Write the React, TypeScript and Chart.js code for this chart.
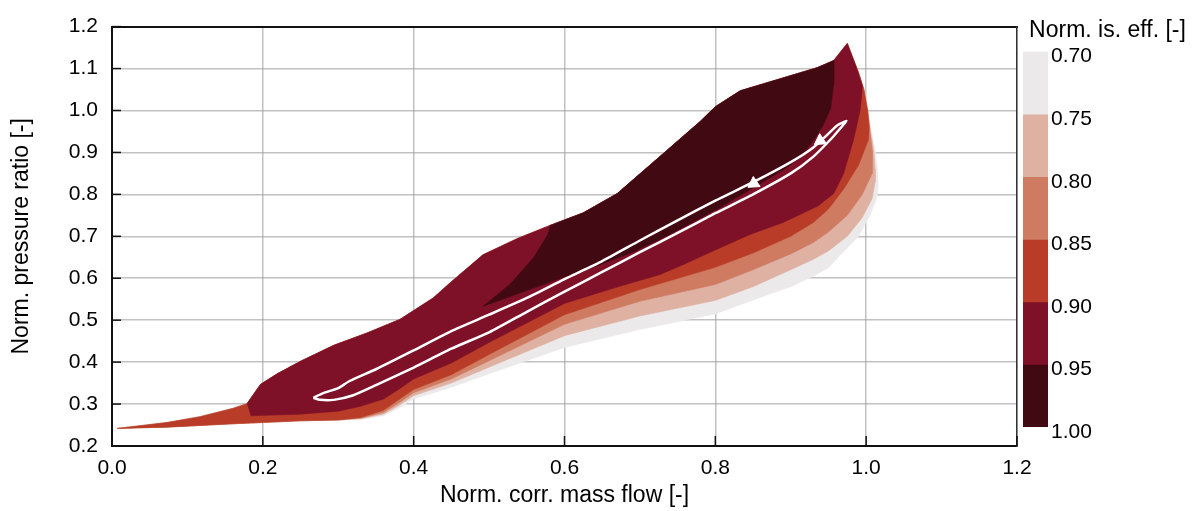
import React, { useEffect, useRef } from 'react';
import { Chart, registerables } from 'chart.js';

Chart.register(...registerables);
Chart.defaults.font.family = "'Liberation Sans', Arial, sans-serif";

type P = [number, number];

// axis ticks
const xTickValues = [0, 0.2, 0.4, 0.6, 0.8, 1.0, 1.2];
const yTickValues = [0.2, 0.3, 0.4, 0.5, 0.6, 0.7, 0.8, 0.9, 1.0, 1.1, 1.2];

// efficiency levels (colour bar)
const levelBounds = [0.7, 0.75, 0.8, 0.85, 0.9, 0.95, 1.0];
const levelColors = ['#ebe9e9', '#deb1a3', '#cf7b62', '#b83c27', '#7e1128', '#410a12'];

// shared upper-left boundary of the map (mass flow, pressure ratio)
const topBoundary: P[] = [
  [0.007, 0.242], [0.073, 0.256], [0.117, 0.27], [0.161, 0.29], [0.179, 0.301],
  [0.197, 0.347], [0.219, 0.372], [0.25, 0.402], [0.294, 0.44], [0.339, 0.47],
  [0.382, 0.502], [0.426, 0.553], [0.449, 0.59], [0.492, 0.656], [0.538, 0.695],
  [0.581, 0.726], [0.625, 0.756], [0.67, 0.802], [0.736, 0.905], [0.78, 0.974],
  [0.8, 1.009], [0.833, 1.047], [0.935, 1.102], [0.957, 1.119], [0.975, 1.16],
];

// common right edge near the peak for outer levels
const rightTop: P[] = [[0.975, 1.16], [0.99, 1.09], [0.997, 1.05], [1.002, 1.0]];

const lowerLeft: P[] = [[0.25, 0.26], [0.161, 0.253], [0.073, 0.245], [0.007, 0.242]];

// lower / right edge of each level region (from the peak back to the left)
const edge070: P[] = [
  [1.007, 0.95], [1.012, 0.905], [1.015, 0.86], [1.016, 0.82], [1.014, 0.79], [1.005, 0.75],
  [0.99, 0.7], [0.966, 0.656], [0.95, 0.625], [0.93, 0.605], [0.9, 0.58], [0.85, 0.548],
  [0.8, 0.515], [0.7, 0.478], [0.6, 0.435], [0.5, 0.372], [0.45, 0.34], [0.4, 0.312],
  [0.38, 0.29], [0.36, 0.272], [0.33, 0.263], [0.3, 0.261],
];
const edge075: P[] = [
  [1.006, 0.95], [1.01, 0.905], [1.012, 0.86], [1.012, 0.83], [1.008, 0.79], [0.995, 0.745],
  [0.975, 0.7], [0.95, 0.665], [0.93, 0.645], [0.9, 0.62], [0.85, 0.58], [0.8, 0.547],
  [0.7, 0.51], [0.6, 0.463], [0.5, 0.388], [0.45, 0.35], [0.4, 0.32], [0.38, 0.296],
  [0.36, 0.276], [0.33, 0.265], [0.3, 0.262],
];
const edge080: P[] = [
  [1.005, 0.95], [1.008, 0.905], [1.008, 0.85], [0.995, 0.8], [0.975, 0.75], [0.95, 0.71],
  [0.93, 0.685], [0.9, 0.658], [0.85, 0.62], [0.8, 0.585], [0.7, 0.545], [0.6, 0.49],
  [0.5, 0.403], [0.45, 0.36], [0.4, 0.327], [0.38, 0.302], [0.36, 0.28], [0.33, 0.266], [0.3, 0.262],
];
const edge085: P[] = [
  [1.004, 0.96], [1.003, 0.93], [0.99, 0.87], [0.97, 0.812], [0.95, 0.765], [0.93, 0.733],
  [0.9, 0.7], [0.85, 0.66], [0.8, 0.626], [0.7, 0.573], [0.6, 0.513], [0.5, 0.418],
  [0.45, 0.37], [0.4, 0.335], [0.38, 0.31], [0.36, 0.285], [0.33, 0.268], [0.3, 0.262],
];
const edge090: P[] = [
  [0.988, 1.098], [0.995, 1.058], [0.992, 1.0], [0.983, 0.928], [0.97, 0.849], [0.957, 0.802],
  [0.936, 0.772], [0.89, 0.733], [0.847, 0.705], [0.803, 0.67], [0.758, 0.633], [0.727, 0.609],
  [0.67, 0.579], [0.6, 0.54], [0.5, 0.447], [0.45, 0.398], [0.4, 0.36], [0.38, 0.335],
  [0.36, 0.312], [0.33, 0.295], [0.3, 0.283], [0.25, 0.276], [0.184, 0.272],
];
const edge095: P[] = [
  [0.957, 1.063], [0.953, 1.005], [0.943, 0.965], [0.93, 0.928], [0.913, 0.888], [0.89, 0.858],
  [0.847, 0.812], [0.803, 0.765], [0.737, 0.702], [0.692, 0.663], [0.648, 0.633], [0.625, 0.619],
  [0.581, 0.591], [0.538, 0.563], [0.492, 0.533], [0.528, 0.586], [0.559, 0.649], [0.577, 0.702],
];

// operating loop (white closed curve)
const loopUpper: P[] = [
  [0.267, 0.315], [0.28, 0.326], [0.3, 0.338], [0.315, 0.355], [0.35, 0.383], [0.4, 0.428],
  [0.45, 0.474], [0.5, 0.513], [0.55, 0.553], [0.6, 0.598], [0.65, 0.641], [0.7, 0.69],
  [0.75, 0.738], [0.8, 0.785], [0.85, 0.829], [0.9, 0.877], [0.93, 0.912], [0.95, 0.945],
  [0.962, 0.965], [0.974, 0.975],
];
const loopLower: P[] = [
  [0.966, 0.958], [0.955, 0.935], [0.93, 0.89], [0.9, 0.85], [0.85, 0.8], [0.8, 0.755],
  [0.75, 0.708], [0.7, 0.662], [0.65, 0.615], [0.6, 0.568], [0.55, 0.52], [0.5, 0.471],
  [0.45, 0.432], [0.4, 0.387], [0.35, 0.345], [0.32, 0.321], [0.294, 0.31], [0.276, 0.31],
  [0.267, 0.315],
];
const arrowPoints: P[] = [[0.851, 0.826], [0.939, 0.928]];

const toXY = (pts: P[]) => pts.map(([x, y]) => ({ x, y }));

const innerTicks = {
  id: 'innerTicks',
  afterDraw(chart: any) {
    const { ctx, chartArea, scales } = chart;
    ctx.save();
    ctx.strokeStyle = '#111';
    ctx.lineWidth = 1.5;
    for (const v of yTickValues) {
      const py = scales.y.getPixelForValue(v);
      ctx.beginPath();
      ctx.moveTo(chartArea.left, py);
      ctx.lineTo(chartArea.left + 9, py);
      ctx.stroke();
    }
    for (const v of xTickValues) {
      const px = scales.x.getPixelForValue(v);
      ctx.beginPath();
      ctx.moveTo(px, chartArea.bottom);
      ctx.lineTo(px, chartArea.bottom - 10);
      ctx.stroke();
    }
    ctx.restore();
  },
};

export default function App() {
  const mainRef = useRef<HTMLCanvasElement>(null);
  const cbRef = useRef<HTMLCanvasElement>(null);

  useEffect(() => {
    const polys: P[][] = [
      [...topBoundary, ...rightTop.slice(1), ...edge070, ...lowerLeft],
      [...topBoundary, ...rightTop.slice(1), ...edge075, ...lowerLeft],
      [...topBoundary, ...rightTop.slice(1), ...edge080, ...lowerLeft],
      [...topBoundary, ...rightTop.slice(1), ...edge085, ...lowerLeft],
      [...topBoundary.slice(4), ...edge090],
      [...topBoundary.slice(15, 24), ...edge095],
    ];
    const fillSets = polys.map((p, i) => ({
      data: toXY(p),
      fill: 'shape',
      backgroundColor: levelColors[i],
      borderColor: levelColors[i],
      borderWidth: 0.5,
      pointRadius: 0,
      tension: 0,
      order: 20 - i,
    }));
    const loopSet = {
      data: toXY([...loopUpper, ...loopLower]),
      fill: false,
      borderColor: '#ffffff',
      borderWidth: 2.5,
      pointRadius: 0,
      tension: 0.2,
      order: 2,
    };
    const arrowSet = {
      data: toXY(arrowPoints),
      showLine: false,
      pointStyle: 'triangle',
      pointRadius: 7,
      pointRotation: 236,
      backgroundColor: '#ffffff',
      borderColor: '#ffffff',
      order: 1,
    };

    const gridColor = 'rgba(160,160,160,0.65)';
    const main = new Chart(mainRef.current as HTMLCanvasElement, {
      type: 'line',
      data: { datasets: [...fillSets, loopSet, arrowSet] as any },
      options: {
        responsive: false,
        animation: false,
        events: [],
        layout: { padding: { left: 0, right: 175, top: 16, bottom: 0 } },
        plugins: { legend: { display: false }, tooltip: { enabled: false } },
        scales: {
          x: {
            type: 'linear', position: 'bottom', min: 0, max: 1.2, z: 1,
            afterFit: (s: any) => { s.height = 65; },
            ticks: { stepSize: 0.2, callback: (v: any) => Number(v).toFixed(1), font: { size: 21 }, color: '#000', padding: 10, maxRotation: 0, autoSkip: false },
            grid: { color: gridColor, lineWidth: 1.5, drawTicks: false },
            border: { color: '#111', width: 2 },
            title: { display: true, text: 'Norm. corr. mass flow [-]', font: { size: 23 }, color: '#000', padding: { top: 0, bottom: 2 } },
          },
          y: {
            type: 'linear', position: 'left', min: 0.2, max: 1.2, z: 1,
            afterFit: (s: any) => { s.width = 112; },
            ticks: { stepSize: 0.1, callback: (v: any) => Number(v).toFixed(1), font: { size: 21 }, color: '#000', padding: 14, autoSkip: false },
            grid: { color: gridColor, lineWidth: 1.5, drawTicks: false },
            border: { color: '#111', width: 2 },
            title: { display: true, text: 'Norm. pressure ratio [-]', font: { size: 23 }, color: '#000', padding: { top: 8, bottom: 0 } },
          },
          x2: {
            type: 'linear', position: 'top', min: 0, max: 1.2, z: 1,
            afterFit: (s: any) => { s.height = 0; },
            ticks: { display: false },
            grid: { drawOnChartArea: false, drawTicks: false },
            border: { color: '#111', width: 2 },
          },
          y2: {
            type: 'linear', position: 'right', min: 0.2, max: 1.2, z: 1,
            afterFit: (s: any) => { s.width = 0; },
            ticks: { display: false },
            grid: { drawOnChartArea: false, drawTicks: false },
            border: { color: '#333', width: 1.5 },
          },
        },
      } as any,
      plugins: [innerTicks],
    });

    const cb = new Chart(cbRef.current as HTMLCanvasElement, {
      type: 'bar',
      data: {
        labels: ['eff'],
        datasets: levelColors.map((c, i) => ({
          data: [[levelBounds[i], levelBounds[i + 1]]],
          backgroundColor: c,
          borderWidth: 0,
          grouped: false,
          barPercentage: 1,
          categoryPercentage: 1,
        })) as any,
      },
      options: {
        responsive: false,
        animation: false,
        events: [],
        layout: { padding: { left: 8, right: 0, top: 0, bottom: 84 } },
        plugins: {
          legend: { display: false },
          tooltip: { enabled: false },
          title: { display: true, text: 'Norm. is. eff. [-]', font: { size: 23, weight: 'normal' }, color: '#000', padding: { top: 17, bottom: 7 } },
        },
        scales: {
          x: { display: false },
          y: {
            position: 'right', min: 0.7, max: 1.0, reverse: true,
            afterFit: (s: any) => { s.width = 144; },
            ticks: { stepSize: 0.05, callback: (v: any) => Number(v).toFixed(2), font: { size: 21 }, color: '#000', padding: 3, labelOffset: 5 },
            grid: { display: false, drawTicks: false },
            border: { display: false },
          },
        },
      } as any,
    });

    return () => {
      main.destroy();
      cb.destroy();
    };
  }, []);

  return (
    <div style={{ position: 'fixed', left: 0, top: 0, width: 1192, height: 511, background: '#fff' }}>
      <canvas ref={mainRef} width={1192} height={511} style={{ position: 'absolute', left: 0, top: 0 }} />
      <canvas ref={cbRef} width={177} height={511} style={{ position: 'absolute', left: 1015, top: 0 }} />
    </div>
  );
}
